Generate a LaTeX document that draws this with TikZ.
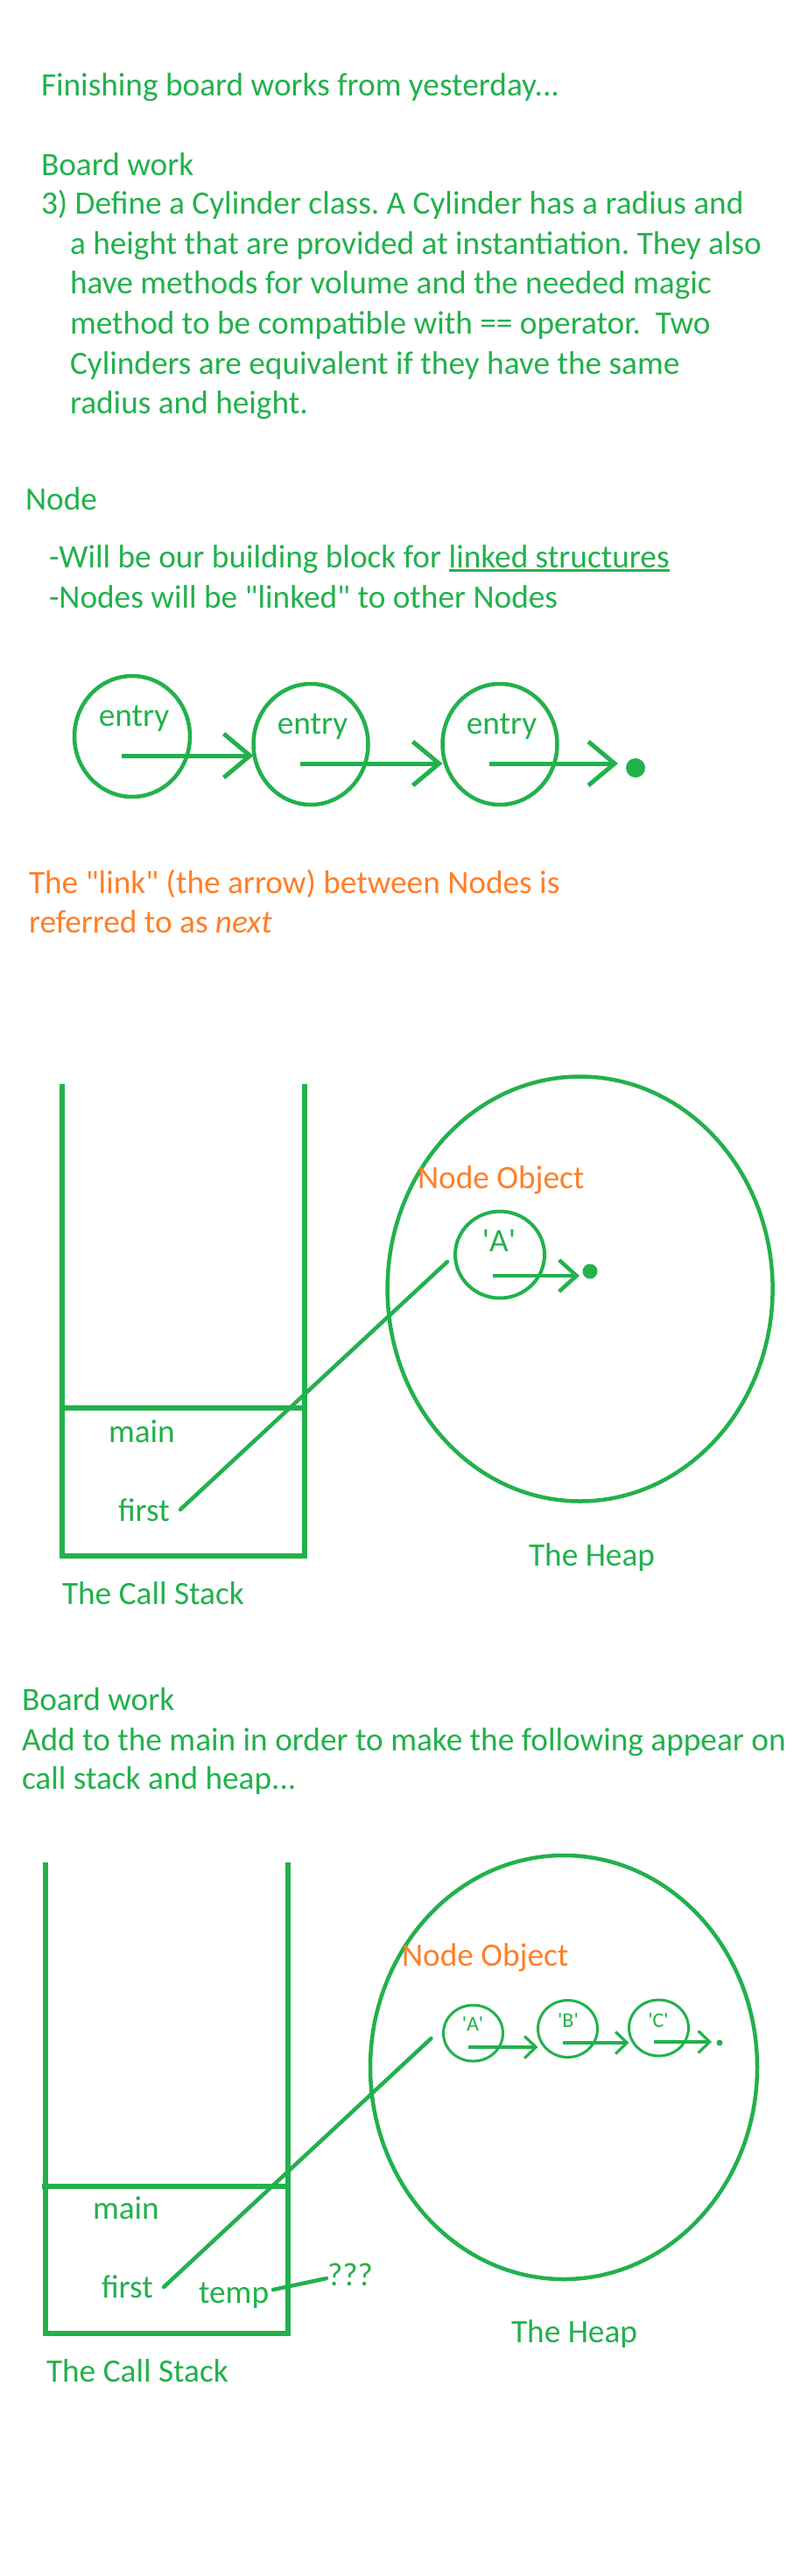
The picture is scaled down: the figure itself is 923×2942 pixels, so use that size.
\documentclass[tikz,border=0pt]{standalone}
\usepackage{fontspec}
\setmainfont{Carlito}[Ligatures=TeXOff]
\frenchspacing
\usetikzlibrary{arrows.meta,shapes.geometric}
\definecolor{grn}{RGB}{34,177,76}
\definecolor{org}{RGB}{255,127,39}
\tikzset{
  txt/.style={font=\fontsize{37.3}{45}\selectfont, text=grn, anchor=base west, inner sep=0pt, outer sep=0pt},
  otxt/.style={txt, text=org},
  smalltxt/.style={font=\fontsize{24}{28}\selectfont, text=grn, anchor=base, inner sep=0pt},
  ctxt/.style={txt, anchor=base},
  ring/.style={ellipse, draw=grn, inner sep=0pt, outer sep=0pt, line width=4.5pt},
  sring/.style={ellipse, draw=grn, inner sep=0pt, outer sep=0pt, line width=3pt},
  heapring/.style={ellipse, draw=grn, inner sep=0pt, outer sep=0pt, line width=4.5pt},
  lnk/.style={draw=grn, line width=5pt, -{Straight Barb[length=30pt,width=50pt]}},
  mlnk/.style={draw=grn, line width=4.5pt, -{Straight Barb[length=20pt,width=36pt]}},
  slnk/.style={draw=grn, line width=3.2pt, -{Straight Barb[length=13pt,width=25pt]}},
  stk/.style={draw=grn, line width=5.5pt},
  ptr/.style={draw=grn, line width=4.5pt, line cap=round},
  blob/.style={circle, fill=grn, inner sep=0pt},
}
\begin{document}
\begin{tikzpicture}[x=1pt,y=-1pt]
\useasboundingbox[fill=white] (0,0) rectangle (923,2942);

% ---- top text ----
\node[txt] (l1) at (47,109) {Finishing board works from yesterday...};
\node[txt] (l2) at (47,200) {Board work};
\node[txt] (l3) at (47,244) {3) Define a Cylinder class. A Cylinder has a radius and};
\node[txt] (l4) at (80,290) {a height that are provided at instantiation. They also};
\node[txt] (l5) at (80,335) {have methods for volume and the needed magic};
\node[txt] (l6) at (80,381) {method to be compatible with == operator.\ \ Two};
\node[txt] (l7) at (80,427) {Cylinders are equivalent if they have the same};
\node[txt] (l8) at (80,472) {radius and height.};

\node[txt] (nd) at (29,582) {Node};
\node[txt] (w1) at (56,648) {-Will be our building block for};
\node[txt] (w2) at ([xshift=8.4pt]w1.base east) {linked structures};
\draw[grn, line width=2.5pt] ([yshift=-3.5pt]w2.base west) -- ([yshift=-3.5pt]w2.base east);
\node[txt] (nl) at (56,694) {-Nodes will be "linked" to other Nodes};

% ---- linked nodes row ----
\node[ring, minimum width=132pt, minimum height=138pt] (c1) at (151,841) {};
\node[ring, minimum width=131pt, minimum height=138pt] (c2) at (355,850) {};
\node[ring, minimum width=131pt, minimum height=138pt] (c3) at (571,850) {};
\node[ctxt] (e1) at (153,829) {entry};
\node[ctxt] (e2) at (357,838) {entry};
\node[ctxt] (e3) at (573,838) {entry};
\coordinate (a1s) at (139,863);
\coordinate (a2s) at (343,872);
\coordinate (a3s) at (559,872);
\coordinate (a3e) at (706,872);
\draw[lnk] (a1s) -- (a1s -| c2.west);
\draw[lnk] (a2s) -- (a2s -| c3.west);
\draw[lnk] (a3s) -- (a3e);
\node[blob, minimum size=22pt] (d1) at (726,877) {};

\node[otxt] (o1) at (33,1020) {The "link" (the arrow) between Nodes is};
\node[otxt] (o2) at (33,1065) {referred to as \textit{next}};

% ---- first call stack / heap ----
\draw[stk] (71,1238) -- (71,1777) -- (348,1777) -- (348,1238);
\draw[stk] (68,1608) -- (348,1608);
\node[txt] (m1) at (124,1647) {main};
\node[txt] (f1) at (135,1737) {first};
\node[txt] (cs1) at (71,1832) {The Call Stack};

\node[heapring, minimum width=440pt, minimum height=485pt] (h1) at (662.6,1472) {};
\node[otxt] (no1) at (477,1357) {Node Object};
\node[ring, line width=4pt, minimum width=102pt, minimum height=99pt] (na) at (571,1433) {};
\node[ctxt] (la) at (570,1429) {'A'};
\coordinate (ha1) at (563,1457);
\coordinate (ha2) at (662,1457);
\draw[mlnk] (ha1) -- (ha2);
\node[blob, minimum size=17pt] (d2) at (674,1452) {};
\coordinate (p1a) at (206,1724);
\draw[ptr] (p1a) -- ([xshift=-9pt,yshift=-8pt]na.west);
\node[txt] (th1) at (604,1788) {The Heap};

% ---- second board work ----
\node[txt] (b2) at (25,1953) {Board work};
\node[txt] (b3) at (25,1999) {Add to the main in order to make the following appear on};
\node[txt] (b4) at (25,2043) {call stack and heap...};

\draw[stk] (52,2127) -- (52,2665) -- (329,2665) -- (329,2127);
\draw[stk] (48,2497) -- (329,2497);
\node[txt] (m2) at (106,2534) {main};
\node[txt] (f2) at (116,2624) {first};
\node[txt] (tp) at (227,2630) {temp};
\node[txt] (qq) at (374,2610) {???};
\node[txt] (cs2) at (53,2720) {The Call Stack};

\node[heapring, minimum width=442pt, minimum height=484pt] (h2) at (644,2361) {};
\node[otxt] (no2) at (459,2245) {Node Object};
\node[sring, minimum width=68pt, minimum height=64pt] (sa) at (540.5,2322) {};
\node[sring, minimum width=68pt, minimum height=65pt] (sb) at (648.5,2317) {};
\node[sring, minimum width=68pt, minimum height=64pt] (sc) at (752.5,2316) {};
\node[smalltxt] (ta) at (540,2319) {'A'};
\node[smalltxt] (tb) at (649,2315) {'B'};
\node[smalltxt] (tc) at (752,2315) {'C'};
\coordinate (sa1) at (535,2338);
\coordinate (sb1) at (643,2333);
\coordinate (sc1) at (747,2332);
\coordinate (sc2) at (813,2332);
\draw[slnk] (sa1) -- (sa1 -| sb.west);
\draw[slnk] (sb1) -- (sb1 -| sc.west);
\draw[slnk] (sc1) -- (sc2);
\node[blob, minimum size=7pt] (d3) at (822,2333) {};
\coordinate (p2a) at (187,2612);
\draw[ptr] (p2a) -- ([xshift=-14pt,yshift=-6pt]sa.west);
\draw[ptr] ([xshift=5pt,yshift=15pt]tp.base east) -- ([xshift=-1pt,yshift=8pt]qq.base west);
\node[txt] (th2) at (584,2675) {The Heap};
\end{tikzpicture}
\end{document}
